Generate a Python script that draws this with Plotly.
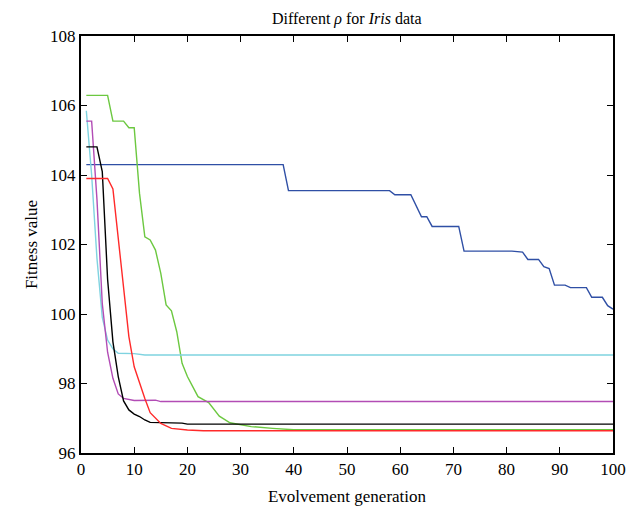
import plotly.graph_objects as go

# Breakpoints (generation, fitness value)
blue_x = [1, 38, 39, 58, 59, 62, 64, 65, 66, 71, 72, 81, 83, 84, 86, 87, 88, 89, 91, 92, 95, 96, 98, 99, 100]
blue_y = [104.3, 104.3, 103.55, 103.55, 103.43, 103.43, 102.8, 102.8, 102.52, 102.52, 101.81, 101.81, 101.78,
          101.57, 101.57, 101.36, 101.31, 100.83, 100.83, 100.76, 100.76, 100.48, 100.48, 100.24, 100.14]

green_x = [1, 5, 6, 8, 9, 10, 11, 12, 13, 14, 15, 16, 17, 18, 19, 20, 21, 22, 24, 26, 28, 32, 36, 40, 100]
green_y = [106.29, 106.29, 105.55, 105.55, 105.36, 105.36, 103.47, 102.22, 102.13, 101.84, 101.17, 100.26,
           100.09, 99.49, 98.58, 98.2, 97.91, 97.62, 97.45, 97.06, 96.87, 96.76, 96.71, 96.67, 96.67]

red_x = [1, 5, 6, 7, 8, 9, 10, 11, 12, 13, 15, 17, 20, 23, 100]
red_y = [103.9, 103.9, 103.6, 102.2, 100.79, 99.35, 98.48, 98.0, 97.57, 97.16, 96.85, 96.71, 96.66, 96.64, 96.64]

black_x = [1, 3, 4, 5, 6, 7, 8, 9, 10, 11, 12, 13, 19, 20, 100]
black_y = [104.81, 104.81, 104.1, 101.0, 99.2, 98.2, 97.5, 97.24, 97.12, 97.05, 96.95, 96.88, 96.86, 96.83, 96.83]

magenta_x = [1, 2, 3, 4, 5, 6, 7, 8, 10, 14, 15, 100]
magenta_y = [105.55, 105.55, 103.3, 100.3, 98.9, 98.15, 97.7, 97.57, 97.51, 97.52, 97.48, 97.48]

cyan_x = [1, 2, 3, 4, 5, 6, 7, 10, 12, 100]
cyan_y = [105.85, 104.0, 101.6, 99.9, 99.25, 99.0, 98.87, 98.86, 98.82, 98.82]

x_ticks = [0, 10, 20, 30, 40, 50, 60, 70, 80, 90, 100]
y_ticks = [96, 98, 100, 102, 104, 106, 108]

series = [
    (blue_x, blue_y, "#2f4fa5"),
    (green_x, green_y, "#6cc840"),
    (cyan_x, cyan_y, "#7fd3e0"),
    (magenta_x, magenta_y, "#b24cb5"),
    (black_x, black_y, "#000000"),
    (red_x, red_y, "#ff2a2a"),
]

fig = go.Figure()
for xs, ys, c in series:
    fig.add_trace(go.Scatter(x=xs, y=ys, mode="lines", line=dict(color=c, width=1.4), showlegend=False))

font_family = "Liberation Serif, DejaVu Serif, serif"
L, R, T, B = 73, 34, 28, 70
fig.update_layout(
    width=639, height=515,
    margin=dict(l=L, r=R, t=T, b=B, autoexpand=False),
    paper_bgcolor="white", plot_bgcolor="white",
    font=dict(family=font_family, size=17, color="black"),
    annotations=[dict(
        text="Different <i>ρ</i> for <i>Iris</i> data", xref="paper", yref="paper",
        x=0.5, xanchor="center", y=1, yshift=6, yanchor="bottom", showarrow=False,
        font=dict(size=16, family=font_family),
    )],
)
fig.update_xaxes(
    range=[0, 100], tickvals=x_ticks, ticks="inside", ticklen=6, tickwidth=1.2, tickcolor="black",
    showline=True, linecolor="black", linewidth=2, mirror="ticks", showgrid=False, zeroline=False,
    title=dict(text="Evolvement generation", standoff=12, font=dict(size=17)),
    tickfont=dict(size=17), automargin=False,
)
fig.update_yaxes(
    range=[96, 108], tickvals=y_ticks, ticks="inside", ticklen=6, tickwidth=1.2, tickcolor="black",
    showline=True, linecolor="black", linewidth=2, mirror="ticks", showgrid=False, zeroline=False,
    title=dict(text="Fitness value", standoff=8, font=dict(size=17)),
    tickfont=dict(size=17), automargin=False,
)

fig.write_html("out.html")
